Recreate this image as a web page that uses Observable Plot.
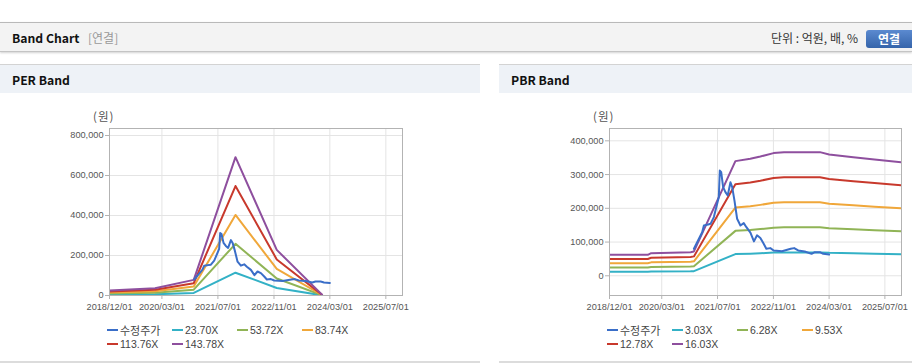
<!DOCTYPE html>
<html><head><meta charset="utf-8">
<script src="https://cdn.jsdelivr.net/npm/d3@7"></script>
<script src="https://cdn.jsdelivr.net/npm/@observablehq/plot@0.6"></script>
<style>
html,body{margin:0;padding:0;background:#fff;}
body{width:912px;height:364px;position:relative;overflow:hidden;font-family:"Noto Sans CJK KR","Liberation Sans",sans-serif;}
.abs{position:absolute;}
#topbar{left:0;top:22px;width:912px;height:28px;background:#f3f3f3;border-top:1px solid #b9b9b9;border-bottom:1px solid #c4c4c4;box-shadow:0 1px 2px rgba(0,0,0,0.18);}
.title{font-weight:bold;font-size:12.2px;color:#111;white-space:nowrap;}
.sub{font-size:12px;color:#999;white-space:nowrap;}
.unit{font-size:12px;color:#333;white-space:nowrap;}
#btn{left:866px;top:30px;width:50px;height:18px;border-radius:3px;background:linear-gradient(#5b8ad0,#3564aa);color:#fff;font-weight:bold;font-size:12px;line-height:18px;}
.phead{top:64px;height:28px;background:#eef2f7;border-top:1px solid #d3d3d3;}
.pbot{top:361px;height:0;border-top:2px solid #dcdcdc;}
.ylab{font-size:11.5px;color:#555;letter-spacing:1px;white-space:nowrap;}
.leg{font-family:"Liberation Sans","Noto Sans CJK KR",sans-serif;font-size:10.5px;color:#444;white-space:nowrap;}
.leg .it{position:absolute;height:14px;line-height:14px;}
.leg .sw{position:absolute;left:0;top:6px;width:11px;height:2px;}
.leg .tx{position:absolute;left:13px;top:0;}
.leg .kr{font-family:"Noto Sans CJK KR",sans-serif;font-size:11px;}
</style></head>
<body>
<div id="topbar" class="abs"></div>
<div class="abs title" style="left:12px;top:29px;">Band Chart</div>
<div class="abs sub" style="left:88px;top:29px;">[연결]</div>
<div class="abs unit" style="left:771px;top:29px;">단위 : 억원, 배, %</div>
<div id="btn" class="abs"><span style="position:absolute;left:12px;top:0;">연결</span></div>

<div class="abs phead" style="left:0;width:480px;"></div>
<div class="abs phead" style="left:499px;width:413px;"></div>
<div class="abs title" style="left:12px;top:71px;">PER Band</div>
<div class="abs title" style="left:511px;top:71px;">PBR Band</div>
<div class="abs pbot" style="left:0;width:480px;"></div>
<div class="abs pbot" style="left:499px;width:413px;"></div>

<div class="abs ylab" style="left:93px;top:108px;">(원)</div>
<div class="abs ylab" style="left:593px;top:108px;">(원)</div>

<div id="perChart" class="abs" style="left:0;top:100px;"></div>
<div id="pbrChart" class="abs" style="left:500px;top:100px;"></div>
<div id="perLegend" class="abs leg" style="left:107px;top:323px;"></div>
<div id="pbrLegend" class="abs leg" style="left:607px;top:323px;"></div>

<script>
// ---- data ----
const tickDates = ["2018/12/01","2020/03/01","2021/07/01","2022/11/01","2024/03/01","2025/07/01"];
const xStart = "2018/12/01";
const xEnd = "2025/11/23";

const priceLabel = "수정주가";
const priceDates = ["2020/12/07","2021/02/17","2021/03/04","2021/04/10","2021/05/01","2021/05/30","2021/07/12","2021/07/21","2021/08/02","2021/08/19","2021/09/08","2021/09/28","2021/10/22","2021/11/06","2021/11/26","2021/12/19","2022/01/17","2022/02/15","2022/03/10","2022/04/14","2022/05/15","2022/06/11","2022/07/10","2022/08/08","2022/08/31","2022/10/05","2022/11/03","2023/01/15","2023/04/01","2023/05/01","2023/06/05","2023/08/01","2023/09/30","2023/10/28","2023/12/12","2024/01/10","2024/03/01"];
const priceValues = [80000,129000,149000,152000,154000,174000,233000,312000,307000,263000,248000,238000,277000,263000,223000,169000,149000,156000,144000,128000,102000,120000,112000,95000,80000,82000,75000,73000,80000,82000,75000,72000,65000,70000,70000,65000,63000];

const perLabels = ["23.70X","53.72X","83.74X","113.76X","143.78X"];
const perDates = ["2018/12/01","2020/01/01","2020/12/03","2021/12/01","2022/11/25","2023/12/24"];
const per2370  = [4148, 6044, 12869, 114021, 37588, 711];
const per5372  = [9401, 13699, 29170, 258447, 85200, 1612];
const per8374  = [14655, 21354, 45471, 402873, 132812, 2512];
const per11376 = [19908, 29009, 61772, 547299, 180423, 3413];
const per14378 = [25162, 36664, 78073, 691726, 228035, 4313];
const perTicks = [0, 200000, 400000, 600000, 800000];

const pbrLabels = ["3.03X","6.28X","9.53X","12.78X","16.03X"];
const pbrDates = ["2018/12/01","2019/10/31","2019/11/30","2020/11/08","2020/12/07","2021/12/04","2022/04/13","2022/07/10","2022/11/02","2023/02/01","2023/12/12","2024/03/01","2024/09/28","2025/04/01","2025/11/23"];
const pbr303  = [11760,11760,12670,13240,13640,64240,65540,66810,68720,69270,69270,67960,66450,65150,63630];
const pbr628  = [24370,24370,26250,27440,28260,133140,135840,138470,142430,143560,143560,140860,137720,135020,131880];
const pbr953  = [36980,36980,39840,41650,42890,202040,206130,210140,216140,217860,217860,213760,208990,204900,200130];
const pbr1278 = [49590,49590,53420,55850,57510,270940,276430,281800,289850,292150,292150,286660,280270,274770,268380];
const pbr1603 = [62200,62200,67010,70050,72140,339840,346730,353460,363560,366450,366450,359550,351540,344650,336630];
const pbrTicks = [0, 100000, 200000, 300000, 400000];

const seriesColors = ["#3a6ec8","#33b1c6","#90b456","#f0a73a","#c8392c","#8e4f9e"];

// ---- build ----
const parse = d3.utcParse("%Y/%m/%d");
const fmtDate = d3.utcFormat("%Y/%m/%d");
const ticks = tickDates.map(parse);

function rows(dates, values, name) {
  return dates.map((d, i) => ({date: parse(d), value: values[i], series: name}));
}
const priceRows = rows(priceDates, priceValues, priceLabel);

function makeChart(bandRows, labels, yDomain, yTicks, width, mLeft, mRight) {
  return Plot.plot({
    width, height: 220,
    marginLeft: mLeft, marginRight: mRight, marginTop: 28, marginBottom: 25,
    x: {type: "utc", domain: [parse(xStart), parse(xEnd)]},
    y: {domain: yDomain},
    color: {domain: [priceLabel, ...labels], range: seriesColors},
    clip: true,
    style: {fontFamily: "'Liberation Sans', Arial, sans-serif", fontSize: "9.2px", color: "#555", background: "transparent", overflow: "visible"},
    marks: [
      Plot.gridY(yTicks, {stroke: "#e4e4e4", strokeOpacity: 1}),
      Plot.gridX(ticks, {stroke: "#e4e4e4", strokeOpacity: 1}),
      Plot.line(bandRows, {x: "date", y: "value", z: "series", stroke: "series", strokeWidth: 2}),
      Plot.line(priceRows, {x: "date", y: "value", z: "series", stroke: "series", strokeWidth: 2}),
      Plot.frame({stroke: "#b3b3b3"}),
      Plot.axisY(yTicks, {tickSize: 4, tickPadding: 2, tickFormat: d3.format(","), stroke: "#b3b3b3", fill: "#555", label: null}),
      Plot.axisX(ticks, {tickSize: 4, tickPadding: 4, tickFormat: fmtDate, stroke: "#b3b3b3", fill: "#555", label: null})
    ]
  });
}

const perRows = [per2370, per5372, per8374, per11376, per14378].flatMap((v, i) => rows(perDates, v, perLabels[i]));
const pbrRows = [pbr303, pbr628, pbr953, pbr1278, pbr1603].flatMap((v, i) => rows(pbrDates, v, pbrLabels[i]));

document.getElementById("perChart").appendChild(makeChart(perRows, perLabels, [0, 835000], perTicks, 480, 109, 78));
document.getElementById("pbrChart").appendChild(makeChart(pbrRows, pbrLabels, [-58400, 436500], pbrTicks, 412, 109, 11));

function legend(el, labels) {
  const names = [priceLabel, ...labels];
  names.forEach((n, i) => {
    const col = i % 4, row = Math.floor(i / 4);
    const it = document.createElement("div");
    it.className = "it";
    it.style.left = (col * 65) + "px";
    it.style.top = (row * 14) + "px";
    const sw = document.createElement("span");
    sw.className = "sw";
    sw.style.background = seriesColors[i];
    const tx = document.createElement("span");
    tx.className = "tx" + (i === 0 ? " kr" : "");
    tx.textContent = n;
    it.appendChild(sw); it.appendChild(tx);
    el.appendChild(it);
  });
}
legend(document.getElementById("perLegend"), perLabels);
legend(document.getElementById("pbrLegend"), pbrLabels);
</script>
</body></html>
